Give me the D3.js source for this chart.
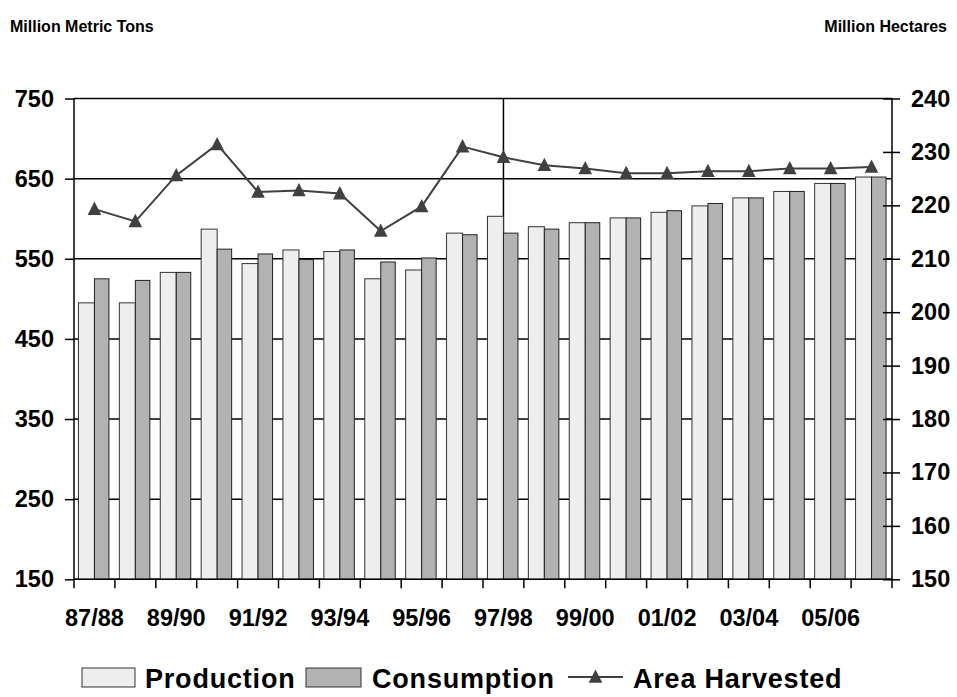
<!DOCTYPE html>
<html><head><meta charset="utf-8">
<script src="https://cdn.jsdelivr.net/npm/d3@7"></script>
<style>
body{margin:0;background:#fff;}
svg{display:block;font-family:"Liberation Sans",Arial,sans-serif;font-weight:bold;}
</style></head><body>
<svg id="chart" width="957" height="697"></svg>
<script>
const categories = ["87/88","88/89","89/90","90/91","91/92","92/93","93/94","94/95","95/96","96/97","97/98","98/99","99/00","00/01","01/02","02/03","03/04","04/05","05/06","06/07"];
const production = [495,495,533,587,544,561,559,525,536,582,603,590,595,601,608,616,626,634,644,652];
const consumption = [525,523,533,562,556,549,561,546,551,580,582,587,595,601,610,619,626,634,644,652];
const areaHarvested = [219.3,217.0,225.6,231.4,222.5,222.8,222.2,215.2,219.8,231.0,229.0,227.5,226.9,226.0,226.0,226.4,226.4,226.9,226.9,227.2];
const leftTicks = [150,250,350,450,550,650,750];
const rightTicks = [150,160,170,180,190,200,210,220,230,240];
const xLabelCats = ["87/88","89/90","91/92","93/94","95/96","97/98","99/00","01/02","03/04","05/06"];

const svg = d3.select("#chart");
const L = 74, R = 892, T = 98.5, B = 579.3;
const x = d3.scaleBand().domain(categories).range([L, R]).padding(0);
const yL = d3.scaleLinear().domain([150, 750]).range([B, T]);
const yR = d3.scaleLinear().domain([150, 240]).range([B, T]);
const bw = x.bandwidth();

// titles
svg.append("text").attr("x", 10).attr("y", 32).attr("font-size", 16).text("Million Metric Tons");
svg.append("text").attr("x", 947).attr("y", 32).attr("font-size", 16).attr("text-anchor", "end").text("Million Hectares");

// gridlines
svg.append("g").selectAll("line").data(leftTicks).join("line")
  .attr("x1", L).attr("x2", R).attr("y1", d => yL(d)).attr("y2", d => yL(d))
  .attr("stroke", "#000").attr("stroke-width", 1.5);
// vertical line at 97/98
svg.append("line").attr("x1", x("97/98") + bw/2).attr("x2", x("97/98") + bw/2)
  .attr("y1", T).attr("y2", B).attr("stroke", "#000").attr("stroke-width", 1.5);

// bars
const g = svg.append("g");
g.selectAll(".p").data(categories).join("rect").attr("class","p")
  .attr("x", d => x(d) + bw/2 - 16).attr("width", 16)
  .attr("y", (d,i) => yL(production[i])).attr("height", (d,i) => B - yL(production[i]))
  .attr("fill", "#eeeeee").attr("stroke", "#333").attr("stroke-width", 1);
g.selectAll(".c").data(categories).join("rect").attr("class","c")
  .attr("x", d => x(d) + bw/2).attr("width", 14.5)
  .attr("y", (d,i) => yL(consumption[i])).attr("height", (d,i) => B - yL(consumption[i]))
  .attr("fill", "#b2b2b2").attr("stroke", "#222").attr("stroke-width", 1);

// axes
const axL = svg.append("g").attr("transform", `translate(${L},0)`)
  .call(d3.axisLeft(yL).tickValues(leftTicks).tickSize(9).tickPadding(11).tickFormat(d3.format("d")));
const axR = svg.append("g").attr("transform", `translate(${R},0)`)
  .call(d3.axisRight(yR).tickValues(rightTicks).tickSize(8).tickPadding(11).tickFormat(d3.format("d")));
axR.selectAll(".tick line").attr("x1", -9);
const axB = svg.append("g").attr("transform", `translate(0,${B})`)
  .call(d3.axisBottom(x).tickValues(xLabelCats).tickSize(0).tickPadding(30));
// tick marks at band boundaries
svg.append("g").selectAll("line").data(categories.concat(["end"])).join("line")
  .attr("x1", (d,i) => L + i*bw).attr("x2", (d,i) => L + i*bw)
  .attr("y1", B).attr("y2", B + 9).attr("stroke", "#000").attr("stroke-width", 1.5);

[axL, axR, axB].forEach(a => {
  a.select(".domain").attr("stroke", "#000").attr("stroke-width", 1.5);
  a.selectAll(".tick line").attr("stroke", "#000").attr("stroke-width", 1.5);
  a.selectAll("text").attr("font-size", 23.5).attr("font-weight", "bold").attr("fill", "#000")
    .attr("font-family", '"Liberation Sans",Arial,sans-serif');
});
axL.select(".domain").attr("d", `M0,${T}V${B}`);
axR.select(".domain").attr("d", `M0,${T}V${B}`);
axB.select(".domain").attr("d", `M${L},0H${R}`);
axB.selectAll("text").attr("dy", "0.71em");

// line
const triShape = { draw(ctx, size) { ctx.moveTo(0, -7.5); ctx.lineTo(6.8, 5.8); ctx.lineTo(-6.8, 5.8); ctx.closePath(); } };
const tri = d3.symbol().type(triShape);
const line = d3.line().x((d,i) => x(categories[i]) + bw/2).y(d => yR(d));
svg.append("path").datum(areaHarvested).attr("d", line)
  .attr("fill", "none").attr("stroke", "#404040").attr("stroke-width", 2);
svg.append("g").selectAll("path").data(areaHarvested).join("path")
  .attr("d", tri)
  .attr("transform", (d,i) => `translate(${x(categories[i]) + bw/2},${yR(d)})`)
  .attr("fill", "#404040");

// legend
const lg = svg.append("g").attr("font-size", 27).attr("letter-spacing", 0.8);
lg.append("rect").attr("x", 82).attr("y", 668).attr("width", 53).attr("height", 19)
  .attr("fill", "#eeeeee").attr("stroke", "#333");
lg.append("text").attr("x", 145).attr("y", 688).text("Production");
lg.append("rect").attr("x", 306).attr("y", 668).attr("width", 55).attr("height", 19)
  .attr("fill", "#b2b2b2").attr("stroke", "#333");
lg.append("text").attr("x", 372).attr("y", 688).text("Consumption");
lg.append("line").attr("x1", 568).attr("x2", 623).attr("y1", 677).attr("y2", 677)
  .attr("stroke", "#404040").attr("stroke-width", 2);
lg.append("path").attr("d", tri).attr("transform", "translate(595.5,677)").attr("fill", "#404040");
lg.append("text").attr("x", 633).attr("y", 688).text("Area Harvested");
</script>
</body></html>
